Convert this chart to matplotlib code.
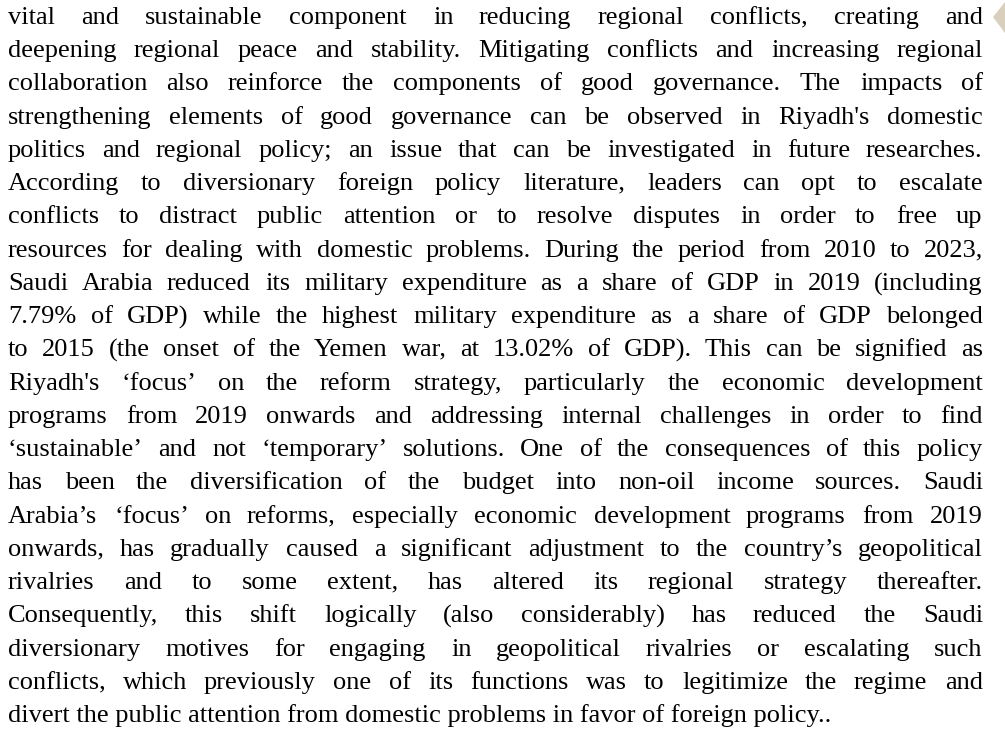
import matplotlib
matplotlib.use("Agg")
import matplotlib.pyplot as plt
from matplotlib.patches import Polygon
from matplotlib.font_manager import FontProperties
from matplotlib.backends.backend_agg import get_hinting_flag

# paragraph, one entry per printed line (last line is not justified)
lines = [
    "vital and sustainable component in reducing regional conflicts, creating and",
    "deepening regional peace and stability. Mitigating conflicts and increasing regional",
    "collaboration also reinforce the components of good governance. The impacts of",
    "strengthening elements of good governance can be observed in Riyadh's domestic",
    "politics and regional policy; an issue that can be investigated in future researches.",
    "According to diversionary foreign policy literature, leaders can opt to escalate",
    "conflicts to distract public attention or to resolve disputes in order to free up",
    "resources for dealing with domestic problems. During the period from 2010 to 2023,",
    "Saudi Arabia reduced its military expenditure as a share of GDP in 2019 (including",
    "7.79% of GDP) while the highest military expenditure as a share of GDP belonged",
    "to 2015 (the onset of the Yemen war, at 13.02% of GDP). This can be signified as",
    "Riyadh's \u2018focus\u2019 on the reform strategy, particularly the economic development",
    "programs from 2019 onwards and addressing internal challenges in order to find",
    "\u2018sustainable\u2019 and not \u2018temporary\u2019 solutions. One of the consequences of this policy",
    "has been the diversification of the budget into non-oil income sources. Saudi",
    "Arabia\u2019s \u2018focus\u2019 on reforms, especially economic development programs from 2019",
    "onwards, has gradually caused a significant adjustment to the country\u2019s geopolitical",
    "rivalries and to some extent, has altered its regional strategy thereafter.",
    "Consequently, this shift logically (also considerably) has reduced the Saudi",
    "diversionary motives for engaging in geopolitical rivalries or escalating such",
    "conflicts, which previously one of its functions was to legitimize the regime and",
    "divert the public attention from domestic problems in favor of foreign policy..",
]

W, H = 1005, 745
fig = plt.figure(figsize=(W / 100, H / 100), dpi=100)
fig.patch.set_facecolor("white")
renderer = fig.canvas.get_renderer()

left, right = 8, 983
top_base, bot_base = 24, 722
step = (bot_base - top_base) / (len(lines) - 1)
fs = 19
family = ["Liberation Serif", "DejaVu Serif"]
font = dict(family=family, size=fs, color="black")
prop = FontProperties(family=family, size=fs)


def px(x, y):
    return x / W, 1 - y / H


def snap(word):
    # Agg rounds each string's ink box on its own; work out how far the
    # baseline drifts so all words of a line sit on one row
    try:
        f = renderer._prepare_font(prop)
        f.set_text(word, 0, flags=get_hinting_flag())
        h = f.get_width_height()[1] / 64
        d = f.get_descent() / 64
        a = h - d
        return round(d) - int(a + d) + int(a)
    except Exception:
        return 0


for i, line in enumerate(lines):
    y = round(top_base + i * step)
    words = line.split(" ")
    if i == len(lines) - 1:
        fig.text(*px(left, y - snap(line)), line, va="baseline", ha="left", **font)
        continue
    texts = [fig.text(*px(0, y), w, va="baseline", ha="left", **font) for w in words]
    widths = [t.get_window_extent(renderer).width for t in texts]
    gap = (right - left - sum(widths)) / (len(words) - 1)
    x = left
    for t, word, w in zip(texts, words, widths):
        t.set_position(px(round(x), y - snap(word)))
        x += w + gap

# decorative corner shape at the right edge
fig.patches.append(Polygon([px(993, 17), px(1005, 2), px(1005, 33)], closed=True,
                           transform=fig.transFigure, facecolor="#d8d0bc",
                           edgecolor="none"))

fig.savefig("out.png", dpi=100)
